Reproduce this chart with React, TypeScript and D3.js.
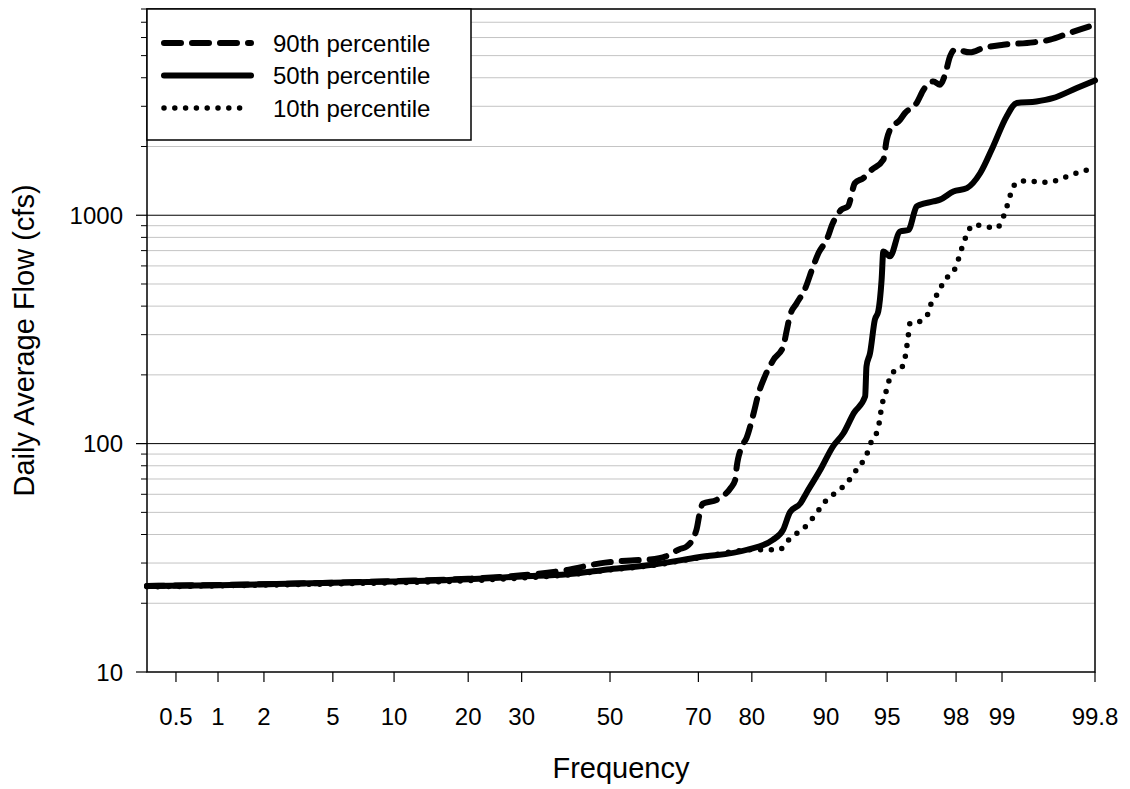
import React from "react";
import * as d3 from "d3";

// ---------- data ----------
// each series: [frequency %, daily average flow cfs]
const p90: [number, number][] = [
  [0.3, 23.8], [5, 24.6], [10, 25.0], [20, 25.6], [30, 26.5], [40, 28.0], [47.6, 29.9],
  [55, 30.8], [59.4, 31.1], [63, 32.1], [66, 34.5], [67.5, 35.4], [69.6, 41.9], [70.3, 49.9],
  [70.9, 54.6], [73.7, 56.8], [76.2, 63.5], [77.1, 69], [77.4, 79.4], [78.3, 97.1],
  [79.1, 105.7], [80.3, 136], [81.1, 166], [82.1, 197], [83.4, 233], [84.8, 266],
  [85.3, 315], [85.7, 361], [86.6, 412], [87.6, 472], [88.6, 597], [89.2, 683],
  [90.07, 781], [90.7, 924], [91.5, 1057], [92.1, 1093], [92.7, 1384], [93.36, 1455],
  [93.98, 1582], [94.76, 1749], [94.97, 2141], [95.17, 2368], [95.74, 2618], [96.0, 2803],
  [96.56, 3100], [96.86, 3545], [97.25, 3855], [97.49, 3729], [97.66, 4124], [97.82, 4963],
  [97.97, 5308], [98.37, 5167], [98.66, 5400], [99.02, 5580], [99.4, 5715], [99.55, 5870],
  [99.68, 6285], [99.8, 6830],
];

const p50: [number, number][] = [
  [0.3, 23.8], [1, 24.0], [5, 24.6], [10, 24.9], [20, 25.5], [30, 26.2], [40, 26.8],
  [50, 28.2], [60, 29.5], [70, 31.8], [79.2, 34.3], [83.3, 37.9], [84.8, 42], [85.7, 49.9],
  [87.1, 54.9], [87.8, 60.7], [89.4, 76.8], [90.7, 97.1], [91.7, 111], [92.6, 136],
  [93.5, 161], [93.6, 218], [93.86, 249], [94.2, 349], [94.43, 379], [94.65, 522],
  [94.76, 694], [95.17, 661], [95.74, 849], [96.17, 862], [96.56, 1093], [96.71, 1112],
  [97.25, 1149], [97.49, 1170], [97.92, 1271], [98.29, 1315], [98.6, 1531], [98.85, 2002],
  [99.07, 2709], [99.21, 3100], [99.43, 3150], [99.57, 3257], [99.72, 3605], [99.8, 3893],
];

const p10: [number, number][] = [
  [0.3, 23.6], [5, 24.3], [10, 24.6], [20, 25.1], [30, 25.8], [40, 26.6], [50, 28.0],
  [60, 29.3], [70, 31.6], [80.3, 34.3], [82.6, 34.3], [84.3, 34.3], [85.3, 37.2],
  [86.4, 40], [87.5, 42.6], [89.1, 50.4], [89.9, 55.7], [91.4, 63.1], [92.1, 68],
  [92.6, 74], [93.7, 92.3], [94.0, 104], [94.4, 115], [94.54, 129], [94.65, 145],
  [94.87, 163], [95.07, 184], [95.27, 204], [95.74, 211], [96.0, 237], [96.09, 266],
  [96.17, 300], [96.25, 337], [96.71, 343], [97.06, 373], [97.19, 420], [97.43, 456],
  [97.6, 508], [97.87, 558], [97.94, 573], [98.06, 638], [98.16, 718], [98.27, 808],
  [98.45, 909], [98.7, 893], [98.91, 879], [99.02, 982], [99.08, 1104], [99.13, 1242],
  [99.21, 1392], [99.36, 1416], [99.47, 1392], [99.57, 1406], [99.64, 1455], [99.71, 1520],
  [99.77, 1582],
];

const xTicks = [0.5, 1, 2, 5, 10, 20, 30, 50, 70, 80, 90, 95, 98, 99, 99.8];
const yMajor = [10, 100, 1000];
const seriesNames = ["90th percentile", "50th percentile", "10th percentile"];

// ---------- layout ----------
const W = 1130, H = 789;
const L = 147, R = 1095, T = 9, B = 672;
const FONT = "'Liberation Sans', Arial, Helvetica, sans-serif";

// inverse normal CDF (Acklam)
function qnorm(p: number): number {
  const a = [-3.969683028665376e1, 2.209460984245205e2, -2.759285104469687e2, 1.38357751867269e2, -3.066479806614716e1, 2.506628277459239];
  const b = [-5.447609879822406e1, 1.615858368580409e2, -1.556989798598866e2, 6.680131188771972e1, -1.328068155288572e1];
  const c = [-7.784894002430293e-3, -3.223964580411365e-1, -2.400758277161838, -2.549732539343734, 4.374664141464968, 2.938163982698783];
  const d = [7.784695709041462e-3, 3.224671290700398e-1, 2.445134137142996, 3.754408661907416];
  const pl = 0.02425;
  let q, r;
  if (p < pl) {
    q = Math.sqrt(-2 * Math.log(p));
    return (((((c[0] * q + c[1]) * q + c[2]) * q + c[3]) * q + c[4]) * q + c[5]) / ((((d[0] * q + d[1]) * q + d[2]) * q + d[3]) * q + 1);
  } else if (p <= 1 - pl) {
    q = p - 0.5; r = q * q;
    return (((((a[0] * r + a[1]) * r + a[2]) * r + a[3]) * r + a[4]) * r + a[5]) * q / (((((b[0] * r + b[1]) * r + b[2]) * r + b[3]) * r + b[4]) * r + 1);
  } else {
    q = Math.sqrt(-2 * Math.log(1 - p));
    return -(((((c[0] * q + c[1]) * q + c[2]) * q + c[3]) * q + c[4]) * q + c[5]) / ((((d[0] * q + d[1]) * q + d[2]) * q + d[3]) * q + 1);
  }
}

const zScale = d3.scaleLinear().domain([qnorm(0.003), qnorm(0.998)]).range([L, R]);
const xS = (p: number) => zScale(qnorm(p / 100));
const yS = d3.scaleLog().domain([10, 8000]).range([B, T]);

const line = d3.line<[number, number]>().x((d) => xS(d[0])).y((d) => yS(d[1])).curve(d3.curveMonotoneX);

const styles = [
  { dash: "17,11", width: 6 },
  { dash: undefined as string | undefined, width: 6 },
  { dash: "0,10.8", width: 5.5 },
];
const seriesData = [p90, p50, p10];

export default function App() {
  const minor: number[] = [];
  [10, 100, 1000].forEach((dec) => {
    for (let k = 2; k <= 9; k++) {
      const v = dec * k;
      if (v <= 8000) minor.push(v);
    }
  });

  return (
    <svg width={W} height={H} style={{ position: "absolute", left: 0, top: 0, background: "#fff" }} fontFamily={FONT}>
      <rect x={0} y={0} width={W} height={H} fill="#fff" />
      {/* minor gridlines */}
      {minor.map((v) => (
        <line key={"g" + v} x1={L} x2={R} y1={yS(v)} y2={yS(v)} stroke="#c4c4c4" strokeWidth={1} />
      ))}
      {/* major gridlines */}
      {[100, 1000].map((v) => (
        <line key={"G" + v} x1={L} x2={R} y1={yS(v)} y2={yS(v)} stroke="#000" strokeWidth={1} />
      ))}
      {/* y ticks */}
      {minor.map((v) => (
        <line key={"mt" + v} x1={L - 6} x2={L} y1={yS(v)} y2={yS(v)} stroke="#000" strokeWidth={1} />
      ))}
      {yMajor.map((v) => (
        <g key={"yt" + v}>
          <line x1={L - 11} x2={L} y1={yS(v)} y2={yS(v)} stroke="#000" strokeWidth={1.2} />
          <text x={123} y={yS(v) + 8.5} fontSize={24} textAnchor="end" fill="#000">{v}</text>
        </g>
      ))}
      {/* x ticks */}
      {xTicks.map((p) => (
        <g key={"xt" + p}>
          <line x1={xS(p)} x2={xS(p)} y1={B} y2={B + 10} stroke="#000" strokeWidth={1.2} />
          <text x={xS(p)} y={725} fontSize={24} textAnchor="middle" fill="#000">{p}</text>
        </g>
      ))}
      {/* frame */}
      <rect x={L} y={T} width={R - L} height={B - T} fill="none" stroke="#000" strokeWidth={1.5} />
      {/* curves */}
      {seriesData.map((s, i) => (
        <path key={"s" + i} d={line(s) || ""} fill="none" stroke="#000" strokeWidth={styles[i].width}
          strokeDasharray={styles[i].dash} strokeLinecap="round" strokeLinejoin="round" />
      ))}
      {/* legend */}
      <rect x={L} y={T} width={324} height={131} fill="#fff" stroke="#000" strokeWidth={1.5} />
      {seriesNames.map((n, i) => {
        const yy = 43 + i * 32.5;
        return (
          <g key={"lg" + i}>
            <line x1={164} x2={i === 2 ? 248 : 251} y1={yy} y2={yy} stroke="#000" strokeWidth={styles[i].width}
              strokeDasharray={styles[i].dash} strokeLinecap="round" />
            <text x={273} y={yy + 8.5} fontSize={24} fill="#000">{n}</text>
          </g>
        );
      })}
      {/* axis titles */}
      <text x={621} y={778} fontSize={29} textAnchor="middle" fill="#000">Frequency</text>
      <text transform={`translate(34,${(T + B) / 2}) rotate(-90)`} fontSize={29} textAnchor="middle" fill="#000">Daily Average Flow (cfs)</text>
    </svg>
  );
}
